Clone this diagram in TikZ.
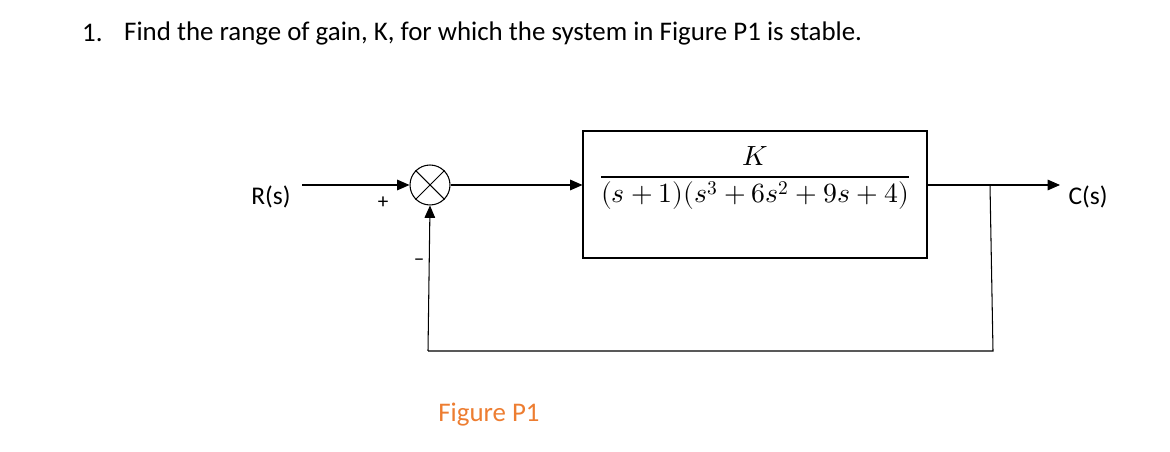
\documentclass[tikz,border=0pt]{standalone}
\usepackage{fontspec}
\setmainfont{Carlito}
\usepackage{unicode-math}
\usetikzlibrary{arrows.meta}
\begin{document}
\begin{tikzpicture}[x=0.02cm,y=-0.02cm,
  ln/.style={line width=0.6pt},
  arr/.style={ln,-{Triangle[length=7pt,width=6pt]}},
  lbl/.style={font=\fontsize{14.5}{17}\selectfont}]
\useasboundingbox (0,0) rectangle (1170,452);
\node[anchor=west,font=\fontsize{15.3}{18}\selectfont] (t1) at (76,33) {1.};
\node[anchor=west,font=\fontsize{15.3}{18}\selectfont] (t2) at (118,33) {Find the range of gain, K, for which the system in Figure P1 is stable.};
\node[lbl] (R) at (271,197) {R(s)};
\coordinate (rin) at (302,185);
\node[circle,draw,ln,minimum size=0.8cm,inner sep=0pt] (sum) at (430,185) {};
\draw[ln] (sum.north west) -- (sum.south east) (sum.north east) -- (sum.south west);
\node[draw,ln,minimum width=344*0.02cm,minimum height=127*0.02cm] (G) at (755,194.5) {};
\node (frac) at (755,178) {\fontsize{15.8}{18}\selectfont$\dfrac{K}{(s+1)(s^3+6s^2+9s+4)}$};
\node[lbl] (C) at (1088,197) {C(s)};
\coordinate (cout) at (1060,185);
\coordinate (br) at (990,185);
\coordinate (b1) at (993,351);
\coordinate (b2) at (428,351);
\draw[arr] (rin) -- (sum.west);
\draw[arr] (sum.east) -- (G.west|-sum);
\draw[arr] (G.east|-sum) -- (cout);
\draw[ln] (br) -- (b1) -- (b2);
\draw[arr] (b2) -- (sum.south);
\node[font=\fontsize{12}{14}\selectfont] (plus) at (383,203) {+};
\node[font=\fontsize{12}{14}\selectfont] (minus) at (419,262) {–};
\node[font=\fontsize{15.3}{18}\selectfont,text={rgb,255:red,237;green,125;blue,49}] (fig) at (489,415) {Figure P1};
\end{tikzpicture}
\end{document}
